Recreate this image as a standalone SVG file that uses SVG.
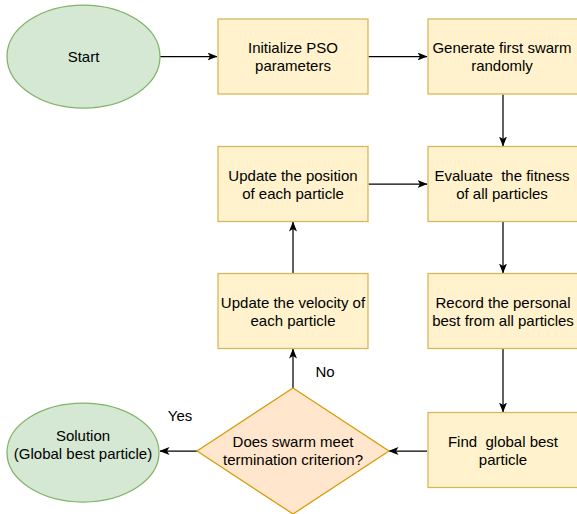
<svg xmlns="http://www.w3.org/2000/svg" width="577" height="514" viewBox="0 0 577 514">
<style>
.box{fill:#fff2cc;stroke:#d6b656;stroke-width:1.25}
.ell{fill:#d5e8d4;stroke:#82b366;stroke-width:1.25}
.dia{fill:#ffe6cc;stroke:#d79b00;stroke-width:1.25}
.edge{stroke:#000;stroke-width:1.25;fill:none;marker-end:url(#arr)}
text{font-family:"Liberation Sans",Arial,Helvetica,sans-serif;font-size:15px;fill:#000;text-anchor:middle}
</style>
<defs>
<marker id="arr" viewBox="0 0 10 8" markerWidth="10" markerHeight="8" refX="9.5" refY="4" orient="auto" markerUnits="userSpaceOnUse">
<path d="M0,0 L10,4 L0,8 L2.5,4 z" fill="#000"/>
</marker>
</defs>
<rect width="577" height="514" fill="#fff"/>
<g id="edges">
<line class="edge" x1="160" y1="56.5" x2="217" y2="56.5"/>
<line class="edge" x1="368.6" y1="56.5" x2="427" y2="56.5"/>
<line class="edge" x1="503" y1="94.6" x2="503" y2="146"/>
<line class="edge" x1="503" y1="222" x2="503" y2="273"/>
<line class="edge" x1="503" y1="349" x2="503" y2="412"/>
<line class="edge" x1="368.6" y1="184" x2="427" y2="184"/>
<line class="edge" x1="293" y1="273" x2="293" y2="222"/>
<line class="edge" x1="293" y1="388" x2="293" y2="349"/>
<line class="edge" x1="427" y1="451" x2="389" y2="451"/>
<line class="edge" x1="197" y1="451" x2="160" y2="451"/>
<text x="325" y="377">No</text>
<text x="180" y="421">Yes</text>
</g>
<g id="start">
<ellipse class="ell" cx="83.5" cy="56.5" rx="76.5" ry="51.5"/>
<text x="83.5" y="62">Start</text>
</g>
<g id="init">
<rect class="box" x="218" y="19" width="150" height="75"/>
<text x="293" y="53">Initialize PSO</text>
<text x="293" y="71">parameters</text>
</g>
<g id="generate">
<rect class="box" x="428" y="19" width="150" height="75"/>
<text x="502" y="53">Generate first swarm</text>
<text x="502" y="71">randomly</text>
</g>
<g id="evaluate">
<rect class="box" x="428" y="146.5" width="150" height="75"/>
<text x="502" y="181" xml:space="preserve">Evaluate  the fitness</text>
<text x="502" y="199">of all particles</text>
</g>
<g id="position">
<rect class="box" x="218" y="146.5" width="150" height="75"/>
<text x="293" y="181">Update the position</text>
<text x="293" y="199">of each particle</text>
</g>
<g id="velocity">
<rect class="box" x="218" y="273.5" width="150" height="75"/>
<text x="293" y="308">Update the velocity of</text>
<text x="293" y="326">each particle</text>
</g>
<g id="record">
<rect class="box" x="428" y="273.5" width="150" height="75"/>
<text x="503" y="308">Record the personal</text>
<text x="503" y="326">best from all particles</text>
</g>
<g id="find">
<rect class="box" x="428" y="412.5" width="150" height="75"/>
<text x="503" y="447" xml:space="preserve">Find  global best</text>
<text x="503" y="465">particle</text>
</g>
<g id="decision">
<polygon class="dia" points="293,388 389,451 293,514 197,451"/>
<text x="293" y="447">Does swarm meet</text>
<text x="293" y="465">termination criterion?</text>
</g>
<g id="solution">
<ellipse class="ell" cx="83" cy="452.5" rx="76" ry="49.5"/>
<text x="83" y="441">Solution</text>
<text x="83" y="459">(Global best particle)</text>
</g>
</svg>
